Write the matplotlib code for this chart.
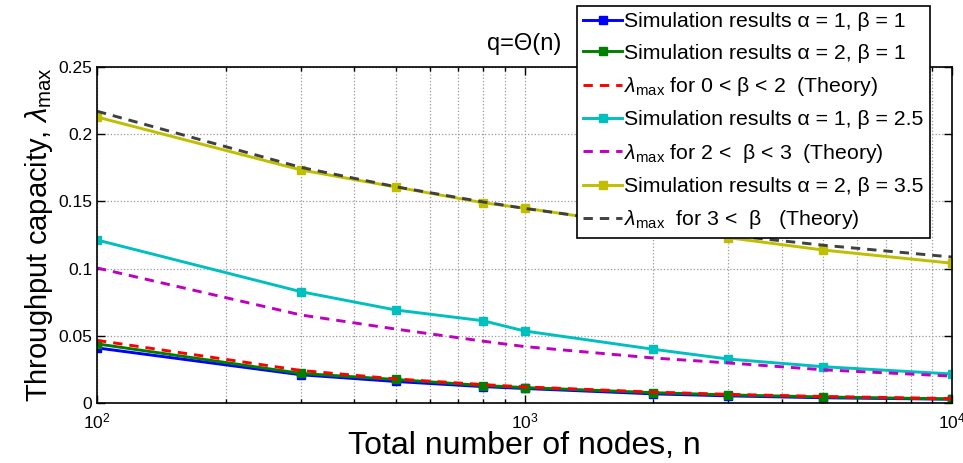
import numpy as np
import matplotlib
matplotlib.use("Agg")
import matplotlib.pyplot as plt
from matplotlib.ticker import LogLocator, NullFormatter

plt.rcParams['font.family'] = ['Liberation Sans', 'DejaVu Sans']
plt.rcParams['mathtext.fontset'] = 'custom'
plt.rcParams['mathtext.rm'] = 'Liberation Sans'
plt.rcParams['mathtext.it'] = 'Liberation Sans:italic'
plt.rcParams['mathtext.sf'] = 'Liberation Sans'

# number of nodes
n = [100, 300, 500, 800, 1000, 2000, 3000, 5000, 10000]

# simulation results
sim_a1_b1 = [0.041, 0.021, 0.016, 0.0122, 0.0108, 0.0068, 0.0053, 0.0039, 0.0028]
sim_a2_b1 = [0.044, 0.022, 0.0175, 0.0130, 0.0115, 0.0077, 0.0060, 0.0045, 0.0030]
sim_a1_b25 = [0.1213, 0.0828, 0.0692, 0.0612, 0.0536, 0.0400, 0.0327, 0.0270, 0.0216]
sim_a2_b35 = [0.2128, 0.1734, 0.1607, 0.1490, 0.1450, 0.1310, 0.1230, 0.1138, 0.1040]

# theoretical lambda_max
th_low = [0.0466, 0.0242, 0.0179, 0.0137, 0.0120, 0.0081, 0.00645, 0.00485, 0.0033]
th_mid = [0.1005, 0.0655, 0.0550, 0.0460, 0.0420, 0.0335, 0.0298, 0.0247, 0.0200]
th_high = [0.2171, 0.1753, 0.1609, 0.1496, 0.1448, 0.1316, 0.1249, 0.1174, 0.1086]

fig = plt.figure(figsize=(9.63, 4.63), dpi=100)
ax = fig.add_axes([97/963, 60/463, 855/963, 336/463])

lw = 2.1
ms = 6
dash = (3.2, 2.4)
ax.plot(n, sim_a1_b1, '-s', color=(0, 0, 1), lw=lw, ms=ms,
        label=u'Simulation results \u03b1 = 1, \u03b2 = 1')
ax.plot(n, sim_a2_b1, '-s', color=(0, 0.5, 0), lw=lw, ms=ms,
        label=u'Simulation results \u03b1 = 2, \u03b2 = 1')
ax.plot(n, th_low, '--', color=(1, 0, 0), lw=lw, dashes=dash,
        label=r'$\lambda_{\rm max}$' + u' for 0 < \u03b2 < 2  (Theory)')
ax.plot(n, sim_a1_b25, '-s', color=(0, 0.75, 0.75), lw=lw, ms=ms,
        label=u'Simulation results \u03b1 = 1, \u03b2 = 2.5')
ax.plot(n, th_mid, '--', color=(0.75, 0, 0.75), lw=lw, dashes=dash,
        label=r'$\lambda_{\rm max}$' + u' for 2 <  \u03b2 < 3  (Theory)')
ax.plot(n, sim_a2_b35, '-s', color=(0.75, 0.75, 0), lw=lw, ms=ms,
        label=u'Simulation results \u03b1 = 2, \u03b2 = 3.5')
ax.plot(n, th_high, '--', color=(0.25, 0.25, 0.25), lw=lw, dashes=dash,
        label=r'$\lambda_{\rm max}$' + u'  for 3 <  \u03b2   (Theory)')

ax.set_xscale('log')
ax.set_xlim(100, 10000)
ax.set_ylim(0, 0.25)
ax.set_yticks([0, 0.05, 0.1, 0.15, 0.2, 0.25])
ax.set_yticklabels(['0', '0.05', '0.1', '0.15', '0.2', '0.25'])
ax.xaxis.set_minor_locator(LogLocator(base=10, subs=np.arange(2, 10)))
ax.xaxis.set_minor_formatter(NullFormatter())

ax.grid(True, which='major', linestyle=':', color='0.6', lw=0.9)
ax.grid(True, which='minor', axis='x', linestyle=':', color='0.6', lw=0.9)
ax.tick_params(which='both', direction='in', top=True, right=True,
               labelsize=12.5, width=1.0)
ax.tick_params(which='major', length=6)
ax.tick_params(which='minor', length=3)
ax.tick_params(axis='x', pad=6)
for s in ax.spines.values():
    s.set_linewidth(1.2)

ax.set_xlabel('Total number of nodes, n', fontsize=23, labelpad=0)
ax.set_ylabel(r'Throughput capacity, $\lambda_{\rm max}$', fontsize=21, labelpad=2)
ax.set_title(u'q=\u0398(n)', fontsize=17, pad=12)

leg = fig.legend(loc='upper left', bbox_to_anchor=(577/963, 457/463),
                 fontsize=15.3, handlelength=1.8, handletextpad=0.1,
                 labelspacing=0.58, borderpad=0.3, borderaxespad=0,
                 fancybox=False, framealpha=1, edgecolor='black')
leg.get_frame().set_linewidth(1.2)

fig.savefig('out.png', dpi=100)
